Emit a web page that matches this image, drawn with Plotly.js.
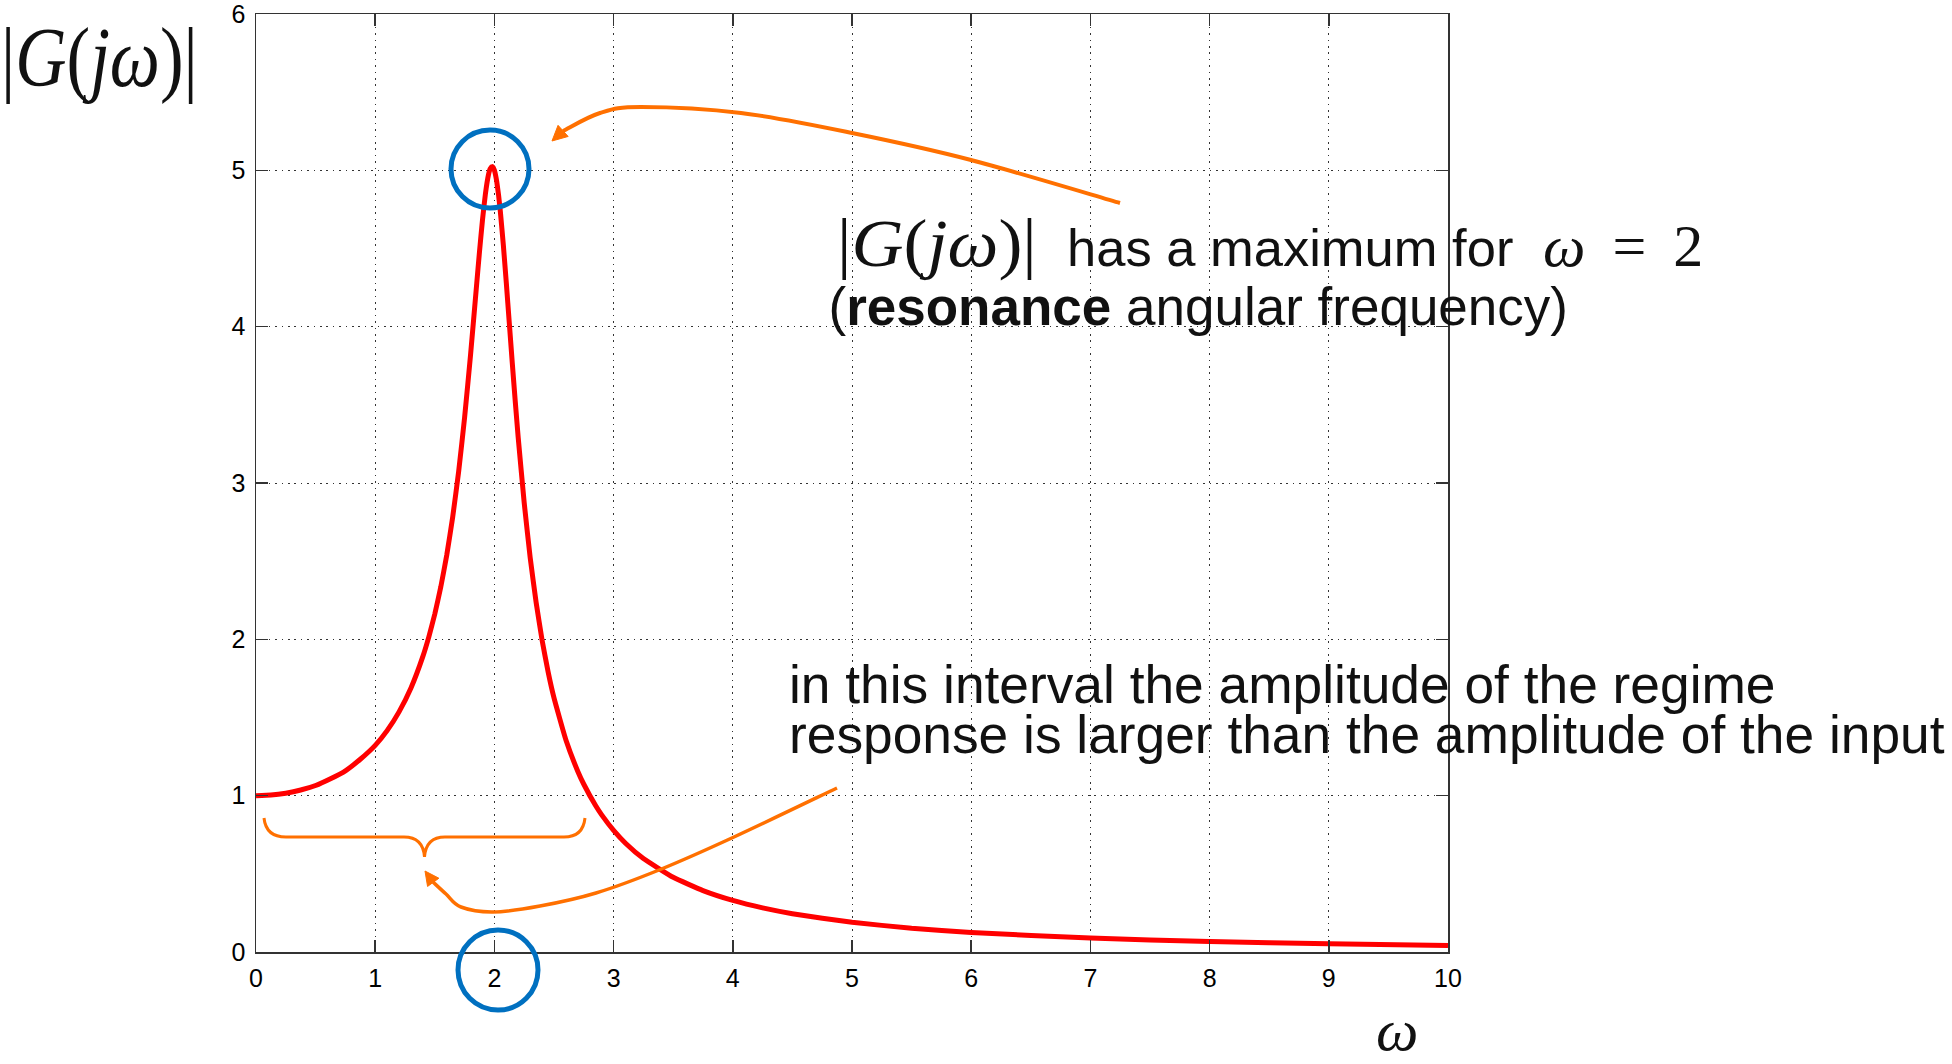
<!DOCTYPE html>
<html>
<head>
<meta charset="utf-8">
<script src="https://cdn.plot.ly/plotly-3.0.1.min.js"></script>
<style>
  html, body { margin: 0; padding: 0; background: #ffffff; }
  #chart { width: 1952px; height: 1064px; }
</style>
</head>
<body>
<div id="chart"></div>
<script>
// Magnitude of the frequency response |G(jw)| of a lightly damped second-order system
const omega = [0, 0.125, 0.25, 0.375, 0.5, 0.625, 0.75, 0.875, 1.0, 1.1, 1.2, 1.3, 1.4, 1.45, 1.5, 1.55,
               1.6, 1.65, 1.7, 1.75, 1.8, 1.85, 1.875, 1.9, 1.925, 1.95, 1.965, 1.98, 1.99, 2.0,
               2.01, 2.02, 2.035, 2.05, 2.075, 2.1, 2.125, 2.15, 2.175, 2.2, 2.25, 2.3, 2.35, 2.4,
               2.45, 2.5, 2.6, 2.7, 2.75, 2.85, 2.9, 3.0, 3.1, 3.25, 3.5, 3.75, 4.0, 4.25, 4.5,
               5.0, 5.5, 6, 7, 8, 9, 10];
const magnitude = [1.000, 1.004, 1.016, 1.036, 1.065, 1.108, 1.159, 1.233, 1.322, 1.416, 1.536, 1.689, 1.891, 2.016, 2.162, 2.334,
                   2.538, 2.782, 3.073, 3.419, 3.821, 4.261, 4.480, 4.683, 4.852, 4.971, 5.011, 5.025, 5.019, 5.000,
                   4.969, 4.926, 4.841, 4.736, 4.522, 4.279, 4.023, 3.768, 3.521, 3.288, 2.873, 2.524, 2.236, 1.995,
                   1.794, 1.625, 1.356, 1.155, 1.073, 0.935, 0.877, 0.778, 0.696, 0.598, 0.478, 0.393, 0.330, 0.282, 0.245,
                   0.190, 0.152, 0.125, 0.089, 0.067, 0.052, 0.042];

const xTickValues = [0, 1, 2, 3, 4, 5, 6, 7, 8, 9, 10];
const yTickValues = [0, 1, 2, 3, 4, 5, 6];

const yLabelText = '|<i>G</i>(<i>j</i><i>ω</i>)|';
const xLabelText = '<i>ω</i>';
const maxMathText = '|<i>G</i>(<i>j</i><i>ω</i>)|';
const maxWordsText = 'has a maximum for';
const maxValueText = '<i>ω</i>\u2009 = \u20092';
const resonanceText = '(<b>resonance</b> angular frequency)';
const intervalLines = ['in this interval the amplitude of the regime',
                       'response is larger than the amplitude of the input'];

// ---- figure geometry (pixels) ----
const W = 1952, H = 1064;
const M = { l: 256, r: 504, t: 14, b: 112 };
const plotW = W - M.l - M.r;
const plotH = H - M.t - M.b;
const fx = x => (x - M.l) / plotW;
const fy = y => (H - M.b - y) / plotH;
const pt = p => fx(p[0]).toFixed(5) + ',' + fy(p[1]).toFixed(5);

// smooth path through pixel points (Catmull-Rom converted to cubic Bezier)
function smoothPath(pts) {
  let d = 'M ' + pt(pts[0]);
  for (let i = 0; i < pts.length - 1; i++) {
    const p0 = pts[Math.max(i - 1, 0)], p1 = pts[i], p2 = pts[i + 1], p3 = pts[Math.min(i + 2, pts.length - 1)];
    const c1 = [p1[0] + (p2[0] - p0[0]) / 6, p1[1] + (p2[1] - p0[1]) / 6];
    const c2 = [p2[0] - (p3[0] - p1[0]) / 6, p2[1] - (p3[1] - p1[1]) / 6];
    d += ' C ' + pt(c1) + ' ' + pt(c2) + ' ' + pt(p2);
  }
  return d;
}

// triangular arrow head: tip and point the shaft leaves from
function headPath(tip, from, len, half) {
  const dx = tip[0] - from[0], dy = tip[1] - from[1];
  const n = Math.hypot(dx, dy), ux = dx / n, uy = dy / n;
  const bx = tip[0] - ux * len, by = tip[1] - uy * len;
  const a = [bx - uy * half, by + ux * half], b = [bx + uy * half, by - ux * half];
  return 'M ' + pt(tip) + ' L ' + pt(a) + ' L ' + pt(b) + ' Z';
}

const ORANGE = '#ff7000';
const BLUE = '#0070c0';

const topArrowPts = [[1120, 203], [971, 160], [852, 133], [741, 113], [641, 107], [600, 113], [563, 131]];
const bottomArrowPts = [[837, 788], [734, 837], [659, 870], [596, 893], [540, 906], [493, 912], [461, 907], [446, 894], [433, 882]];
const bracePath = 'M ' + pt([264, 818]) +
  ' Q ' + pt([266, 837]) + ' ' + pt([286, 837]) +
  ' L ' + pt([404, 837]) +
  ' Q ' + pt([423, 837]) + ' ' + pt([424.5, 857]) +
  ' Q ' + pt([426, 837]) + ' ' + pt([445, 837]) +
  ' L ' + pt([564, 837]) +
  ' Q ' + pt([583, 837]) + ' ' + pt([585, 818]);

const shapes = [
  { type: 'circle', xref: 'paper', yref: 'paper', x0: fx(451), x1: fx(529), y0: fy(208), y1: fy(130),
    line: { color: BLUE, width: 5 } },
  { type: 'circle', xref: 'paper', yref: 'paper', x0: fx(458), x1: fx(538), y0: fy(1010), y1: fy(930),
    line: { color: BLUE, width: 5 } },
  { type: 'path', xref: 'paper', yref: 'paper', path: smoothPath(topArrowPts), line: { color: ORANGE, width: 4 } },
  { type: 'path', xref: 'paper', yref: 'paper', path: headPath([552, 141], [563, 131], 15, 7.5),
    fillcolor: ORANGE, line: { color: ORANGE, width: 1 } },
  { type: 'path', xref: 'paper', yref: 'paper', path: smoothPath(bottomArrowPts), line: { color: ORANGE, width: 3.5 } },
  { type: 'path', xref: 'paper', yref: 'paper', path: headPath([425, 871], [433, 882], 14, 7),
    fillcolor: ORANGE, line: { color: ORANGE, width: 1 } },
  { type: 'path', xref: 'paper', yref: 'paper', path: bracePath, line: { color: ORANGE, width: 3 } }
];

const SANS = 'Liberation Sans, Arial, sans-serif';
const SERIF = 'Liberation Serif, Times New Roman, serif';
const INK = '#111111';

// text blocks: glyph origin (left) and first baseline in pixels, optional stretch and line pitch
const notes = [
  { text: yLabelText,     family: SERIF, size: 71,   left: 1,     base: 86,   sx: 1.0,  sy: 1.2 },
  { text: xLabelText,     family: SERIF, size: 60,   left: 1376,  base: 1050, sx: 1.0,  sy: 1.0 },
  { text: maxMathText,    family: SERIF, size: 68,   left: 837,   base: 266,  sx: 1.06, sy: 1.0 },
  { text: maxWordsText,   family: SANS,  size: 52.5, left: 1067,  base: 266,  sx: 1.0,  sy: 1.0 },
  { text: maxValueText,   family: SERIF, size: 60,   left: 1543,  base: 266,  sx: 1.0,  sy: 1.0 },
  { text: resonanceText,  family: SANS,  size: 53,   left: 828.5, base: 325,  sx: 1.0,  sy: 1.0 },
  { text: intervalLines.join('<br>'), family: SANS, size: 53.3, left: 789, base: 703, sx: 1.0, sy: 1.0, pitch: 50 }
];

const annotations = notes.map(n => ({
  text: n.text, xref: 'paper', yref: 'paper', x: fx(n.left), y: fy(n.base - 0.35 * n.size),
  xanchor: 'left', yanchor: 'middle', align: 'left', showarrow: false, borderpad: 0,
  font: { family: n.family, size: n.size, color: INK }
}));

const axisCommon = {
  showline: true, linecolor: '#333333', linewidth: 1.5, mirror: 'allticks',
  ticks: 'inside', ticklen: 12, tickwidth: 1.5, tickcolor: '#333333',
  showgrid: true, gridcolor: '#333333', gridwidth: 1, griddash: '1.5px,4.9px',
  zeroline: false, tickfont: { family: SANS, size: 25, color: '#000000' },
  ticklabeloverflow: 'allow', fixedrange: true
};

const trace = {
  x: omega, y: magnitude, type: 'scatter', mode: 'lines',
  line: { color: '#ff0000', width: 5, shape: 'spline', smoothing: 0.4 },
  hoverinfo: 'skip', showlegend: false, cliponaxis: true
};

const layout = {
  width: W, height: H, margin: M,
  paper_bgcolor: '#ffffff', plot_bgcolor: '#ffffff',
  font: { family: SANS, color: '#000000' },
  showlegend: false,
  xaxis: Object.assign({}, axisCommon, { range: [0, 10], tickvals: xTickValues, ticktext: xTickValues.map(String), ticklabelstandoff: 3 }),
  yaxis: Object.assign({}, axisCommon, { range: [0, 6], tickvals: yTickValues, ticktext: yTickValues.map(String), ticklabelstandoff: 4 }),
  shapes: shapes,
  annotations: annotations
};

// place every text block on its baseline, set the line pitch and stretch
function settleNotes(gd) {
  const groups = gd.querySelectorAll('g.annotation');
  groups.forEach(g => {
    const idx = +g.getAttribute('data-index');
    const n = notes[idx];
    const text = g.querySelector('text.annotation-text');
    if (!n || !text) return;
    if (n.pitch) {
      text.querySelectorAll('tspan.line').forEach((ln, i) => ln.setAttribute('dy', (i * n.pitch / n.size) + 'em'));
    }
    const p = text.getStartPositionOfChar(0);
    const ctm = text.getScreenCTM();
    const sx0 = p.x * ctm.a + ctm.e, sy0 = p.y * ctm.d + ctm.f;
    const pctm = text.parentNode.getScreenCTM();
    const dx = n.left - sx0, dy = n.base - sy0;
    const ax = n.left - pctm.e, ay = n.base - pctm.f;
    const t = 'translate(' + ax + ',' + ay + ') scale(' + n.sx + ',' + n.sy + ') translate(' + (-ax) + ',' + (-ay) + ') ' +
              'translate(' + dx + ',' + dy + ')';
    const prev = text.getAttribute('transform') || '';
    text.setAttribute('transform', (t + ' ' + prev).trim());
  });
}

Plotly.newPlot('chart', [trace], layout, { displayModeBar: false, staticPlot: true }).then(settleNotes);
</script>
</body>
</html>
